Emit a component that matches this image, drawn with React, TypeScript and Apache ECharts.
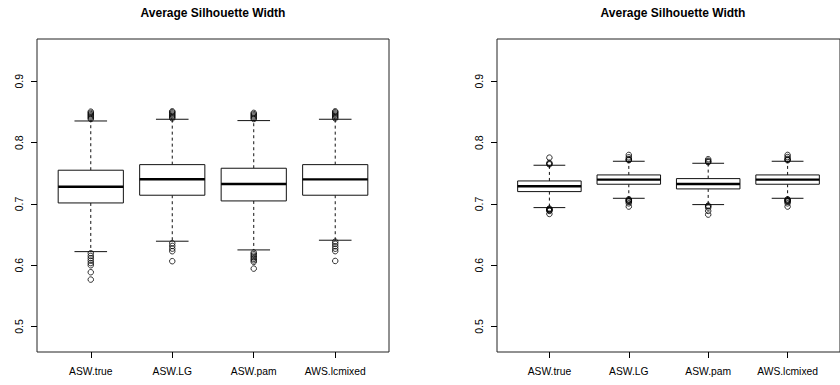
import React, { useEffect, useRef } from "react";
import * as echarts from "echarts";

const categories = ["ASW.true", "ASW.LG", "ASW.pam", "AWS.lcmixed"];
const yTicks = [0.5, 0.6, 0.7, 0.8, 0.9];
const titleText = "Average Silhouette Width";

// [lower whisker, Q1, median, Q3, upper whisker]
const leftStats = [
  [0.6222, 0.7016, 0.728, 0.755, 0.8353],
  [0.6392, 0.7142, 0.7402, 0.7641, 0.8381],
  [0.625, 0.7049, 0.7326, 0.7582, 0.8359],
  [0.6408, 0.7142, 0.74, 0.7641, 0.8381],
];
const leftOutliers = [
  [0.8385, 0.8405, 0.8425, 0.8445, 0.8465, 0.8485, 0.8505, 0.6196, 0.6152, 0.6114, 0.6075, 0.6035, 0.6, 0.5886, 0.5766],
  [0.8395, 0.8415, 0.8435, 0.8455, 0.8475, 0.8495, 0.851, 0.6359, 0.6315, 0.6271, 0.6229, 0.6066],
  [0.8385, 0.8405, 0.8425, 0.8445, 0.8465, 0.8485, 0.6206, 0.618, 0.6155, 0.613, 0.6105, 0.608, 0.6055, 0.5945],
  [0.8395, 0.8415, 0.8435, 0.8455, 0.8475, 0.8495, 0.851, 0.6385, 0.635, 0.631, 0.627, 0.623, 0.607],
];

const rightStats = [
  [0.694, 0.7201, 0.7288, 0.7375, 0.7631],
  [0.7092, 0.7321, 0.7397, 0.7473, 0.7696],
  [0.6989, 0.7245, 0.7326, 0.7413, 0.7663],
  [0.7092, 0.7321, 0.7397, 0.7473, 0.7696],
];
const rightOutliers = [
  [0.7645, 0.7655, 0.767, 0.7755, 0.6925, 0.6915, 0.6905, 0.6895, 0.6886, 0.6837],
  [0.7712, 0.7722, 0.7732, 0.776, 0.7799, 0.7076, 0.7066, 0.7056, 0.7046, 0.7036, 0.701, 0.6957],
  [0.768, 0.769, 0.7705, 0.7729, 0.6973, 0.6963, 0.694, 0.6886, 0.6826],
  [0.7712, 0.7722, 0.7735, 0.7765, 0.7799, 0.7076, 0.7066, 0.7056, 0.7046, 0.7036, 0.701, 0.6957],
];

const FONT = "Liberation Sans, Arial, sans-serif";

function renderBox(params: any, api: any) {
  const x = api.value(0);
  const lo = api.coord([x, api.value(1)]);
  const q1 = api.coord([x, api.value(2)]);
  const med = api.coord([x, api.value(3)]);
  const q3 = api.coord([x, api.value(4)]);
  const hi = api.coord([x, api.value(5)]);
  const half = api.size([0.4, 0])[0];
  const stap = half / 2;
  const cx = q1[0];
  const stroke = "#111";
  return {
    type: "group",
    children: [
      { type: "line", shape: { x1: cx, y1: q3[1], x2: cx, y2: hi[1] }, style: { stroke, lineWidth: 1, lineDash: [3, 3] } },
      { type: "line", shape: { x1: cx, y1: q1[1], x2: cx, y2: lo[1] }, style: { stroke, lineWidth: 1, lineDash: [3, 3] } },
      { type: "line", shape: { x1: cx - stap, y1: hi[1], x2: cx + stap, y2: hi[1] }, style: { stroke, lineWidth: 1 } },
      { type: "line", shape: { x1: cx - stap, y1: lo[1], x2: cx + stap, y2: lo[1] }, style: { stroke, lineWidth: 1 } },
      { type: "rect", shape: { x: cx - half, y: q3[1], width: 2 * half, height: q1[1] - q3[1] }, style: { fill: "#fff", stroke, lineWidth: 1 } },
      { type: "line", shape: { x1: cx - half, y1: med[1], x2: cx + half, y2: med[1] }, style: { stroke: "#000", lineWidth: 2.4 } },
    ],
  };
}

function makeAxes(gridIndex: number) {
  const xAxis = {
    type: "value",
    gridIndex,
    min: 0.34,
    max: 4.66,
    splitLine: { show: false },
    axisLine: { show: false },
    axisTick: { show: true, length: 6, customValues: [1, 2, 3, 4], lineStyle: { color: "#000" } },
    axisLabel: {
      customValues: [1, 2, 3, 4],
      formatter: (v: number) => categories[Math.round(v) - 1],
      fontFamily: FONT,
      fontSize: 10.3,
      color: "#000",
      margin: 14,
    },
  };
  const yAxis = {
    type: "value",
    gridIndex,
    min: 0.4585,
    max: 0.969,
    splitLine: { show: false },
    axisLine: { show: false },
    axisTick: { show: true, length: 6, customValues: yTicks, lineStyle: { color: "#000" } },
    axisLabel: {
      customValues: yTicks,
      rotate: 90,
      formatter: (v: number) => v.toFixed(1),
      fontFamily: FONT,
      fontSize: 10.5,
      color: "#000",
      margin: 13,
    },
  };
  return { xAxis, yAxis };
}

export default function App() {
  const ref = useRef<HTMLDivElement>(null);
  useEffect(() => {
    if (!ref.current) return;
    const chart = echarts.init(ref.current, null, { renderer: "svg" });
    const a0 = makeAxes(0);
    const a1 = makeAxes(1);
    const boxData = (stats: number[][]) => stats.map((s, i) => [i + 1, ...s]);
    const outData = (outs: number[][]) => {
      const d: number[][] = [];
      outs.forEach((arr, i) => arr.forEach((v) => d.push([i + 1, v])));
      return d;
    };
    const scatterCommon = {
      type: "scatter",
      symbol: "circle",
      symbolSize: 5.5,
      itemStyle: { color: "transparent", borderColor: "#000", borderWidth: 1 },
      z: 3,
    };
    chart.setOption({
      animation: false,
      backgroundColor: "#fff",
      grid: [
        { left: 37, top: 39, width: 352, height: 313, show: true, borderColor: "#222", borderWidth: 1, backgroundColor: "transparent" },
        { left: 497, top: 39, width: 352, height: 313, show: true, borderColor: "#222", borderWidth: 1, backgroundColor: "transparent" },
      ],
      xAxis: [a0.xAxis, a1.xAxis],
      yAxis: [a0.yAxis, a1.yAxis],
      graphic: [
        { type: "text", x: 213, y: 13, style: { text: titleText, font: `bold 12px ${FONT}`, fill: "#000", align: "center", verticalAlign: "middle" } },
        { type: "text", x: 673, y: 13, style: { text: titleText, font: `bold 12px ${FONT}`, fill: "#000", align: "center", verticalAlign: "middle" } },
      ],
      series: [
        { type: "custom", xAxisIndex: 0, yAxisIndex: 0, renderItem: renderBox, encode: { x: 0, y: [1, 2, 3, 4, 5] }, data: boxData(leftStats), z: 2 },
        { ...scatterCommon, xAxisIndex: 0, yAxisIndex: 0, data: outData(leftOutliers) },
        { type: "custom", xAxisIndex: 1, yAxisIndex: 1, renderItem: renderBox, encode: { x: 0, y: [1, 2, 3, 4, 5] }, data: boxData(rightStats), z: 2 },
        { ...scatterCommon, xAxisIndex: 1, yAxisIndex: 1, data: outData(rightOutliers) },
      ],
    });
    return () => chart.dispose();
  }, []);
  return <div ref={ref} style={{ position: "fixed", left: 0, top: 0, width: 840, height: 385, background: "#fff" }} />;
}
